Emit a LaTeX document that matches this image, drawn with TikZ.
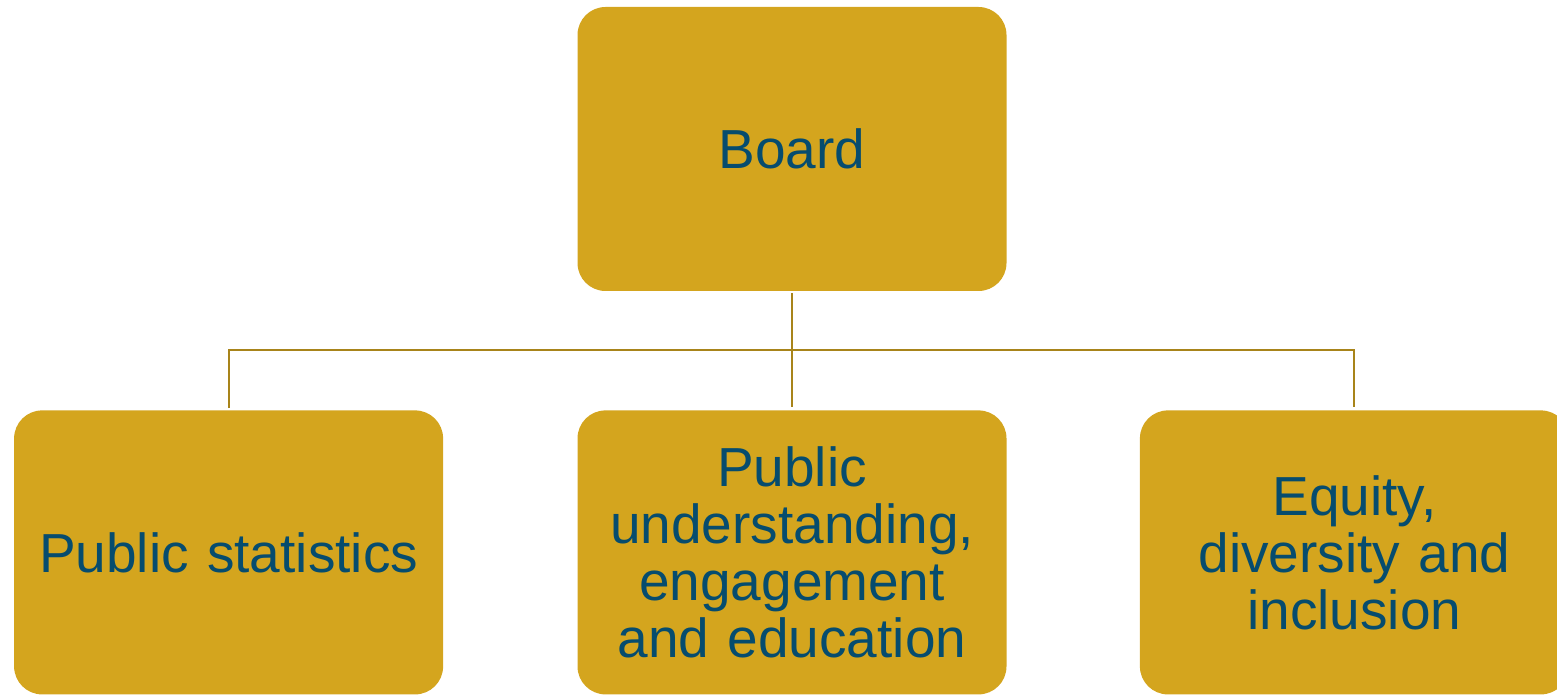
\documentclass[tikz,border=0pt]{standalone}
\usepackage{fontspec}
\setmainfont{Liberation Sans}
\usetikzlibrary{positioning}
\definecolor{boxgold}{RGB}{212,165,30}
\definecolor{linegold}{RGB}{168,132,26}
\definecolor{textblue}{RGB}{6,76,110}

\begin{document}
\begin{tikzpicture}[x=1pt,y=1pt,node distance=119pt,auto]
  \tikzstyle{unit}=[rectangle,fill=boxgold,rounded corners=28pt,minimum width=429pt,minimum height=284pt,
                    text width=410pt,align=center,text=textblue,inner sep=0pt,
                    font=\fontsize{55}{57}\selectfont]
  \tikzstyle{link}=[draw=linegold,line width=2pt,shorten <=2pt,shorten >=3pt]
  \useasboundingbox (0,0) rectangle (1557,694);
  \node[unit] (board) at (792,545) {Board};
  \node[unit] (mid) [below=of board] {Public\\understanding,\\engagement\\and education};
  \node[unit] (left) [left=134pt of mid] {Public statistics};
  \node[unit] (right) [right=133pt of mid] {Equity,\\diversity and\\inclusion};
  \path[link] (board.south) -- (mid.north);
  \path[link] (left.north) -- ++(0,60) -| (right.north);
\end{tikzpicture}
\end{document}
